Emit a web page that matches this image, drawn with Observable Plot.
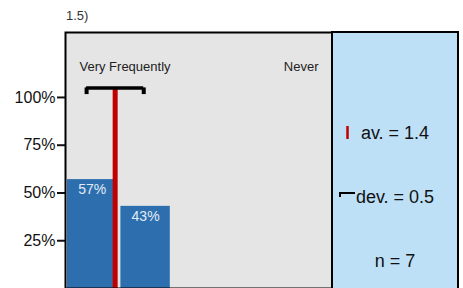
<!DOCTYPE html>
<html>
<head>
<meta charset="utf-8">
<script src="https://cdn.jsdelivr.net/npm/d3@7"></script>
<script src="https://cdn.jsdelivr.net/npm/@observablehq/plot@0.6"></script>
<style>
  html, body { margin: 0; padding: 0; background: #fff; }
  #chart svg { font-family: "Liberation Sans", Arial, sans-serif; display: block; }
</style>
</head>
<body>
<div id="chart"></div>
<script>
// ---- data ----
const title = "1.5)";
const categories = [1, 2, 3, 4, 5];
const shares = [0.57, 0.43, 0, 0, 0];
const shareLabels = ["57%", "43%", "", "", ""];
const scaleEnds = ["Very Frequently", "Never"];
const meanValue = 1.43;
const sdValue = 0.535;
const statLabels = ["av. = 1.4", "dev. = 0.5", "n = 7"];
const yTicks = [0.25, 0.5, 0.75, 1.0];

// ---- layout / style ----
const W = 463, H = 288;
const mL = 65, mR = 131, mT = 32, mB = 0;
const barColor = "#2d6fae";
const redColor = "#c00000";
const greyPanel = "#e5e5e5";
const bluePanel = "#bde0f7";
const markLevel = 1.05, tickLevel = 1.015;

const bars = categories.map((c, i) => ({cat: c, share: shares[i], label: shareLabels[i]}))
  .filter(d => d.share > 0);

const plot = Plot.plot({
  width: W, height: H,
  marginLeft: mL, marginRight: mR, marginTop: mT, marginBottom: mB,
  style: {fontFamily: "Liberation Sans, Arial, sans-serif", background: "transparent"},
  x: {domain: [0.5, 5.5], axis: null},
  y: {domain: [0, 1.34], axis: null},
  marks: [
    Plot.frame({fill: greyPanel, stroke: "none"}),
    Plot.rectY(bars, {x1: d => d.cat - 0.5, x2: d => d.cat + 0.5, y: "share", fill: barColor, insetLeft: 2, insetRight: 2}),
    Plot.text(bars, {x: "cat", y: "share", text: "label", dy: 10, fill: "#e2ebf5", fontSize: 14}),
    Plot.ruleX([meanValue], {y1: 0, y2: markLevel, stroke: redColor, strokeWidth: 5}),
    Plot.ruleY([markLevel], {x1: meanValue - sdValue, x2: meanValue + sdValue, stroke: "black", strokeWidth: 3.5}),
    Plot.ruleX([meanValue - sdValue, meanValue + sdValue], {y1: tickLevel, y2: markLevel, stroke: "black", strokeWidth: 4}),
    Plot.text([scaleEnds[0]], {frameAnchor: "top-left", textAnchor: "start", dx: 14, dy: 34, lineAnchor: "middle", fontSize: 13, fill: "#222"}),
    Plot.text([scaleEnds[1]], {frameAnchor: "top-right", textAnchor: "end", dx: -14, dy: 34, lineAnchor: "middle", fontSize: 13, fill: "#222"}),
    Plot.axisY(yTicks, {anchor: "left", label: null, tickFormat: d3.format(".0%"), tickSize: 8, tickPadding: 2, fontSize: 16, strokeWidth: 2, color: "#111"}),
    Plot.frame({stroke: "black", strokeWidth: 2})
  ]
});

const svg = d3.select(plot);
const px0 = W - mR;           // right edge of grey panel
const px1 = W - 5;            // right edge of blue panel
const g = svg.append("g");
g.append("rect").attr("x", px0).attr("y", mT).attr("width", px1 - px0).attr("height", H - mT + 2)
  .attr("fill", bluePanel).attr("stroke", "black").attr("stroke-width", 2);
const cx = (px0 + px1) / 2;
const statY = [139, 203, 267];
statLabels.forEach((t, i) => {
  g.append("text").attr("x", cx).attr("y", statY[i]).attr("text-anchor", "middle")
    .attr("font-size", 18).attr("fill", "#111").text(t);
});
// legend symbols
g.append("line").attr("x1", 347.5).attr("x2", 347.5).attr("y1", 126).attr("y2", 139)
  .attr("stroke", redColor).attr("stroke-width", 2.5);
g.append("path").attr("d", "M340,197 L340,193 L355,193").attr("fill", "none")
  .attr("stroke", "black").attr("stroke-width", 2);
// title
svg.append("text").attr("x", 66).attr("y", 20).attr("text-anchor", "start")
  .attr("font-size", 13).attr("fill", "#333").text(title);

document.getElementById("chart").appendChild(plot);
</script>
</body>
</html>
